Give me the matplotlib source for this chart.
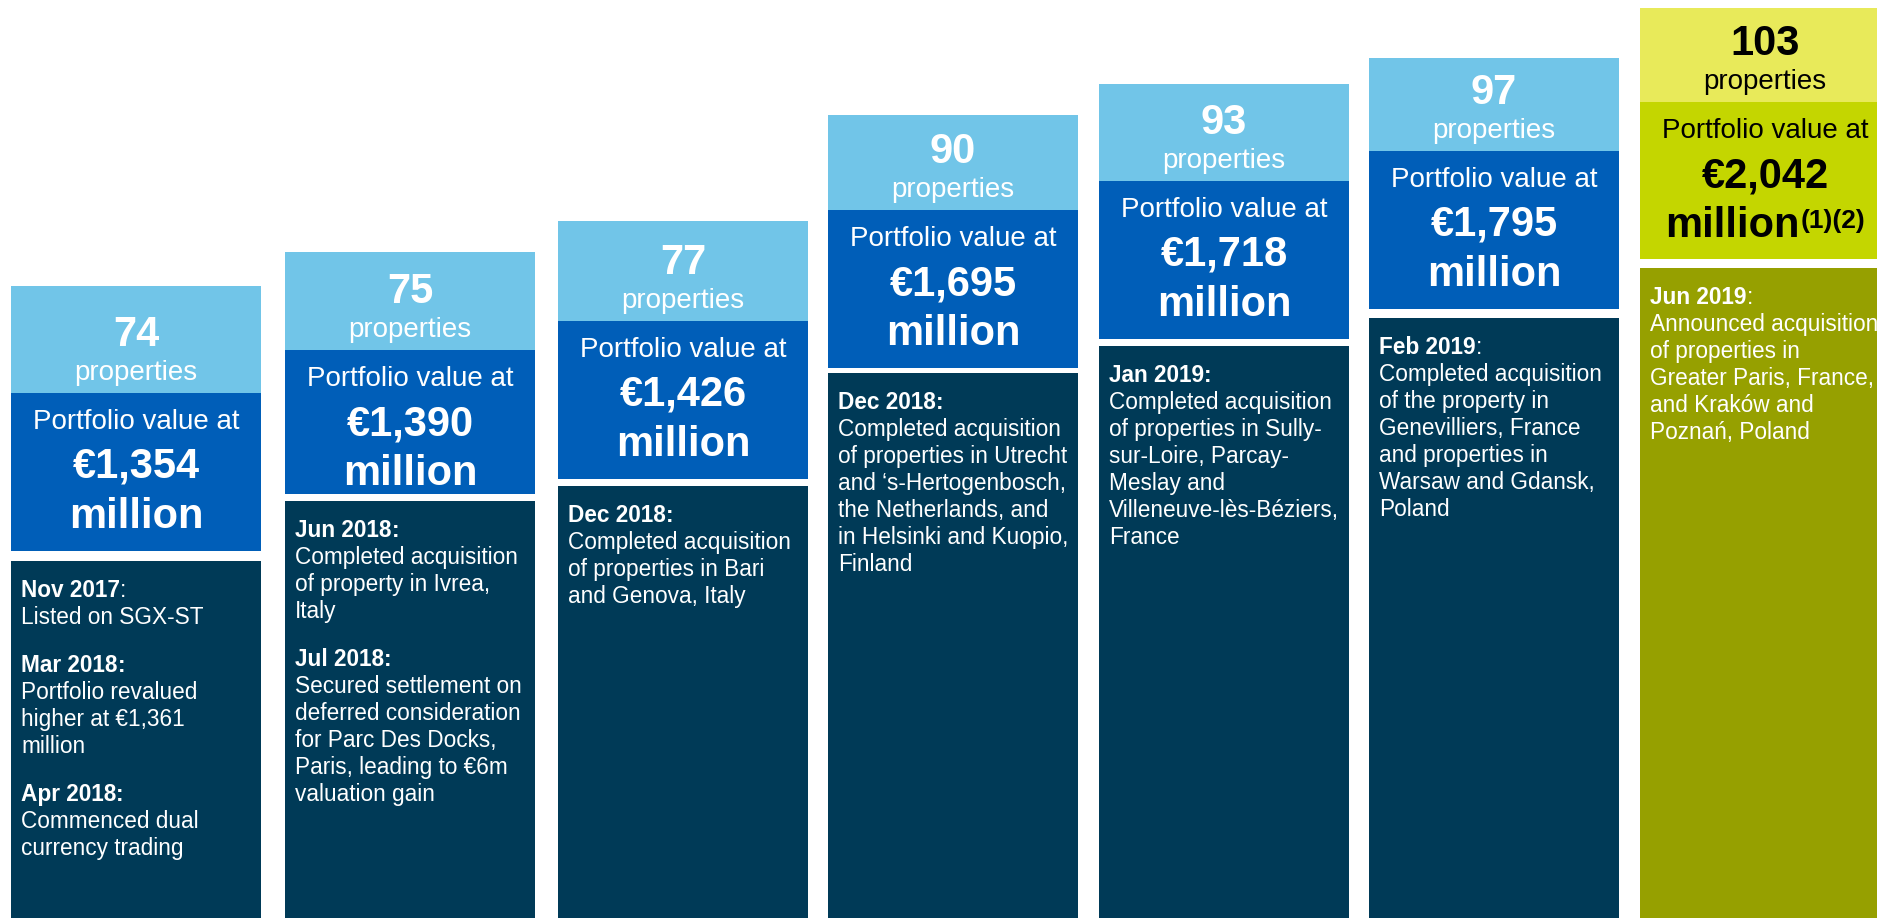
import matplotlib
matplotlib.use("Agg")
import matplotlib.pyplot as plt

# ---- data -------------------------------------------------------------
property_counts = [74, 75, 77, 90, 93, 97, 103]
portfolio_values = [1354, 1390, 1426, 1695, 1718, 1795, 2042]
value_notes = ["", "", "", "", "", "", "(1)(2)"]

# milestones: (date, colon in bold?, description lines)
milestones = [
    [("Nov 2017", False, ["Listed on SGX-ST"]),
     ("Mar 2018", True, ["Portfolio revalued", "higher at €1,361", "million"]),
     ("Apr 2018", True, ["Commenced dual", "currency trading"])],
    [("Jun 2018", True, ["Completed acquisition", "of property in Ivrea,", "Italy"]),
     ("Jul 2018", True, ["Secured settlement on", "deferred consideration",
                         "for Parc Des Docks,", "Paris, leading to €6m",
                         "valuation gain"])],
    [("Dec 2018", True, ["Completed acquisition", "of properties in Bari",
                         "and Genova, Italy"])],
    [("Dec 2018", True, ["Completed acquisition", "of properties in Utrecht",
                         "and \u2018s-Hertogenbosch,", "the Netherlands, and",
                         "in Helsinki and Kuopio,", "Finland"])],
    [("Jan 2019", True, ["Completed acquisition", "of properties in Sully-",
                         "sur-Loire, Parcay-", "Meslay and",
                         "Villeneuve-lès-Béziers,", "France"])],
    [("Feb 2019", False, ["Completed acquisition", "of the property in",
                          "Genevilliers, France", "and properties in",
                          "Warsaw and Gdansk,", "Poland"])],
    [("Jun 2019", False, ["Announced acquisition", "of properties in",
                          "Greater Paris, France,", "and Kraków and",
                          "Poznań, Poland"])],
]

# ---- layout (pixel units, y grows downwards) --------------------------
W, H = 1877, 918
col_left = [11, 285, 558, 828, 1099, 1369, 1640]
col_top = [286, 252, 221, 115, 84, 58, 8]
head_h = [107, 98, 100, 95, 97, 93, 94]
value_h = [158, 144, 158, 158, 158, 158, 157]
gap_h = [10, 7, 7, 5, 7, 9, 9]
col_w = 250
line_step = 27
para_gap = 21

blue_scheme = ("#71C5E8", "#005EB8", "#003A57", "white", "white")
green_scheme = ("#E8EA5A", "#C4D600", "#96A000", "black", "white")
schemes = [blue_scheme] * 6 + [green_scheme]

FONT = "Liberation Sans"
plt.rcParams["font.family"] = [FONT, "DejaVu Sans"]

fig = plt.figure(figsize=(W / 100, H / 100), dpi=100)
ax = fig.add_axes([0, 0, 1, 1])
ax.set_xlim(0, W)
ax.set_ylim(H, 0)
ax.axis("off")
renderer = fig.canvas.get_renderer()


def text_width(t):
    return t.get_window_extent(renderer=renderer).width


for i, count in enumerate(property_counts):
    c_head, c_val, c_desc, tc_top, tc_desc = schemes[i]
    x0 = col_left[i]
    y_head = col_top[i]
    y_val = y_head + head_h[i]
    y_desc = y_val + value_h[i] + gap_h[i]

    ax.bar(x0, head_h[i], bottom=y_head, width=col_w, align="edge",
           color=c_head, linewidth=0)
    ax.bar(x0, value_h[i], bottom=y_val, width=col_w, align="edge",
           color=c_val, linewidth=0)
    ax.bar(x0, H - y_desc + 5, bottom=y_desc, width=col_w, align="edge",
           color=c_desc, linewidth=0)

    cx = x0 + col_w / 2
    # property count
    ax.text(cx, y_val - 47, f"{count}", ha="center", va="baseline",
            fontsize=30, fontweight="bold", color=tc_top)
    ax.text(cx, y_val - 13, "properties", ha="center", va="baseline",
            fontsize=20, color=tc_top)

    # portfolio value
    ax.text(cx, y_val + 36, "Portfolio value at", ha="center", va="baseline",
            fontsize=20, color=tc_top)
    ax.text(cx, y_val + 85, f"€{portfolio_values[i]:,}", ha="center",
            va="baseline", fontsize=30, fontweight="bold", color=tc_top)
    m = ax.text(cx, y_val + 135, "million", ha="left", va="baseline",
                fontsize=30, fontweight="bold", color=tc_top)
    total = text_width(m)
    if value_notes[i]:
        note = ax.annotate(value_notes[i], xy=(1, 1), xycoords=m,
                           xytext=(1, -2), textcoords="offset points",
                           ha="left", va="top", fontsize=19,
                           fontweight="bold", color=tc_top)
        total += text_width(note) + 1
    m.set_x(cx - total / 2)

    # milestones
    y = y_desc + 36
    for k, (date, colon_bold, lines) in enumerate(milestones[i]):
        if k > 0:
            y += line_step + para_gap
        d = ax.text(x0 + 10, y, date, ha="left", va="baseline",
                    fontsize=16.3, fontweight="bold", color=tc_desc)
        ax.annotate(":", xy=(1, 0), xycoords=d, ha="left", va="bottom",
                    fontsize=16.3,
                    fontweight="bold" if colon_bold else "normal",
                    color=tc_desc)
        for j, line in enumerate(lines):
            y += line_step
            ax.text(x0 + 10, y, line, ha="left", va="baseline",
                    fontsize=16.3, color=tc_desc)

fig.savefig("out.png", dpi=100)
